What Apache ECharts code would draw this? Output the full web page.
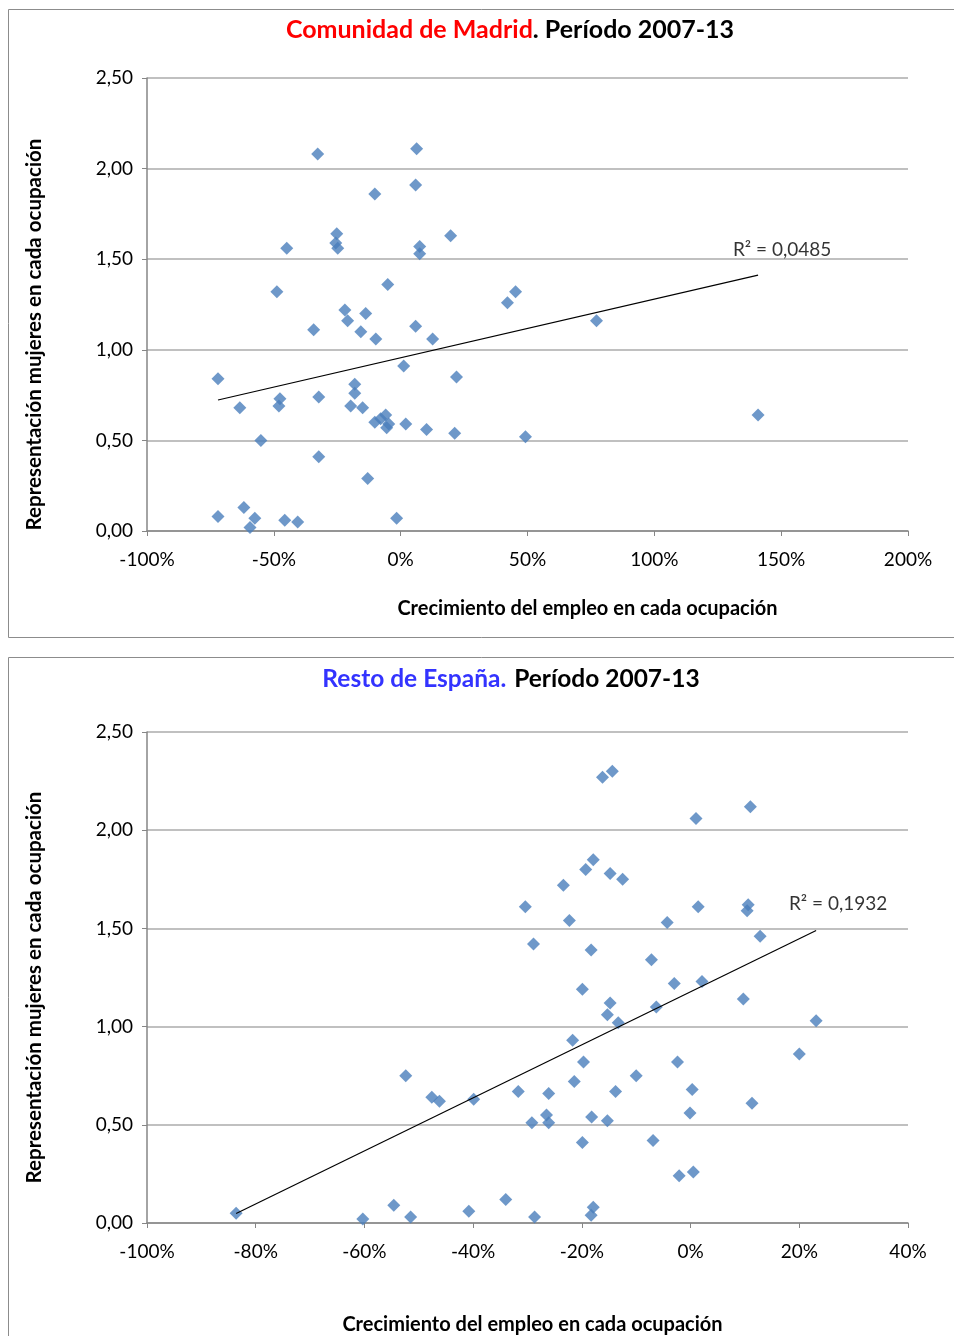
<!DOCTYPE html>
<html>
<head>
<meta charset="utf-8">
<script src="https://cdn.jsdelivr.net/npm/echarts@6/dist/echarts.min.js"></script>
<style>
  html, body { margin: 0; padding: 0; background: #ffffff; }
  #chart { width: 954px; height: 1336px; }
</style>
</head>
<body>
<div id="chart"></div>
<script>
// Employment growth per occupation (fraction, 0.5 = 50%) and women's representation index
const madridGrowth = [-0.720,-0.634,-0.551,-0.720,-0.618,-0.575,-0.594,-0.488,-0.449,-0.476,
  -0.480,-0.457,-0.406,-0.327,-0.343,-0.323,-0.323,-0.252,-0.256,-0.248,
  -0.220,-0.209,-0.181,-0.181,-0.197,-0.150,-0.157,-0.138,-0.102,-0.098,
  -0.130,-0.102,-0.079,-0.059,-0.047,-0.055,-0.051,-0.016,0.012,0.020,
  0.063,0.059,0.075,0.075,0.059,0.126,0.102,0.197,0.220,0.213,
  0.421,0.453,0.492,0.772,1.409];
const madridRepr = [0.84,0.68,0.50,0.08,0.13,0.07,0.02,1.32,1.56,0.73,
  0.69,0.06,0.05,2.08,1.11,0.74,0.41,1.64,1.59,1.56,
  1.22,1.16,0.81,0.76,0.69,0.68,1.10,1.20,1.86,1.06,
  0.29,0.60,0.62,0.64,0.59,0.57,1.36,0.07,0.91,0.59,
  2.11,1.91,1.57,1.53,1.13,1.06,0.56,1.63,0.85,0.54,
  1.26,1.32,0.52,1.16,0.64];

const restoGrowth = [-0.162,-0.144,0.010,0.110,-0.179,-0.193,-0.234,-0.148,-0.125,-0.304,
  -0.223,-0.043,0.014,0.106,0.104,0.128,-0.289,-0.183,-0.072,-0.030,
  -0.199,0.021,0.097,-0.148,-0.153,-0.063,-0.133,0.231,-0.217,-0.197,
  -0.024,0.200,-0.524,-0.100,-0.214,-0.317,-0.261,-0.138,0.003,-0.476,
  -0.462,-0.399,0.113,-0.265,-0.292,-0.261,-0.182,-0.153,-0.001,-0.199,
  -0.069,-0.021,0.005,-0.836,-0.603,-0.546,-0.515,-0.408,-0.340,-0.287,
  -0.179,-0.183];
const restoRepr = [2.27,2.30,2.06,2.12,1.85,1.80,1.72,1.78,1.75,1.61,
  1.54,1.53,1.61,1.62,1.59,1.46,1.42,1.39,1.34,1.22,
  1.19,1.23,1.14,1.12,1.06,1.10,1.02,1.03,0.93,0.82,
  0.82,0.86,0.75,0.75,0.72,0.67,0.66,0.67,0.68,0.64,
  0.62,0.63,0.61,0.55,0.51,0.51,0.54,0.52,0.56,0.41,
  0.42,0.24,0.26,0.05,0.02,0.09,0.03,0.06,0.12,0.03,
  0.08,0.04];

const yTickLabels = ['0,00','0,50','1,00','1,50','2,00','2,50'];
const madridXTicks = ['-100%','-50%','0%','50%','100%','150%','200%'];
const restoXTicks = ['-100%','-80%','-60%','-40%','-20%','0%','20%','40%'];
const madridR2 = 'R² = 0,0485';
const restoR2 = 'R² = 0,1932';

const FONT = "Lato, 'DejaVu Sans', sans-serif";
const MARK = '#4a7ebb';

// Least-squares line over the data range
function fitLine(xs, ys) {
  const n = xs.length;
  const mx = xs.reduce((a, b) => a + b, 0) / n;
  const my = ys.reduce((a, b) => a + b, 0) / n;
  let sxy = 0, sxx = 0;
  for (let i = 0; i < n; i++) { sxy += (xs[i] - mx) * (ys[i] - my); sxx += (xs[i] - mx) ** 2; }
  const k = sxy / sxx, b = my - k * mx;
  const x0 = Math.min(...xs), x1 = Math.max(...xs);
  return [[x0, b + k * x0], [x1, b + k * x1]];
}
const zip = (xs, ys) => xs.map((x, i) => [x, ys[i]]);

const madridFit = fitLine(madridGrowth, madridRepr);
const restoFit = fitLine(restoGrowth, restoRepr);

function xAxisFor(gridIndex, min, max, interval, ticks, nameGap, namePad) {
  return {
    type: 'value', gridIndex, min, max, interval,
    name: 'Crecimiento del empleo en cada ocupación',
    nameLocation: 'middle', nameGap,
    nameTextStyle: { fontFamily: FONT, fontWeight: 'bold', fontSize: 20, color: '#000', padding: namePad },
    axisLine: { onZero: false, lineStyle: { color: '#868686', width: 1.5 } },
    axisTick: { show: true, inside: false, length: 5, lineStyle: { color: '#868686' } },
    axisLabel: {
      margin: 19, fontFamily: FONT, fontSize: 19, color: '#000',
      formatter: v => ticks[Math.round((v - min) / interval)]
    },
    splitLine: { show: false }
  };
}
function yAxisFor(gridIndex, namePad) {
  return {
    type: 'value', gridIndex, min: 0, max: 2.5, interval: 0.5,
    name: 'Representación mujeres en cada ocupación',
    nameLocation: 'middle', nameRotate: 90, nameGap: 102,
    nameTextStyle: { fontFamily: FONT, fontWeight: 'bold', fontSize: 20.5, color: '#000', padding: namePad },
    axisLine: { show: true, onZero: false, lineStyle: { color: '#868686', width: 1.5 } },
    axisTick: { show: true, inside: false, length: 5, lineStyle: { color: '#868686' } },
    axisLabel: {
      margin: 14, fontFamily: FONT, fontSize: 19, color: '#000',
      formatter: v => yTickLabels[Math.round(v / 0.5)]
    },
    splitLine: { show: true, lineStyle: { color: '#ababab', width: 1.5 } }
  };
}
function trendSeries(idx, fit) {
  return {
    type: 'line', xAxisIndex: idx, yAxisIndex: idx, data: fit,
    symbol: 'none', silent: true, z: 5,
    lineStyle: { color: '#000', width: 1.2 }
  };
}
function r2Series(idx, fit, text, offset) {
  return {
    type: 'scatter', xAxisIndex: idx, yAxisIndex: idx, data: [fit[1]],
    symbolSize: 0, silent: true, z: 6,
    label: {
      show: true, position: 'inside', offset, formatter: text,
      fontFamily: FONT, fontSize: 19, color: '#000'
    }
  };
}

const chart = echarts.init(document.getElementById('chart'), null, { renderer: 'canvas' });
chart.setOption({
  animation: false,
  backgroundColor: '#ffffff',
  graphic: [
    { type: 'rect', z: -10, shape: { x: 8.5, y: 9.5, width: 960, height: 628 },
      style: { fill: '#fff', stroke: '#8c8c8c', lineWidth: 1 } },
    { type: 'rect', z: -10, shape: { x: 8.5, y: 657.5, width: 960, height: 700 },
      style: { fill: '#fff', stroke: '#8c8c8c', lineWidth: 1 } },
    { type: 'text', x: 510, y: 30, style: {
        text: '{r|Comunidad de Madrid}{k|. Período 2007-13}', align: 'center', verticalAlign: 'middle',
        rich: {
          r: { fontFamily: FONT, fontWeight: 'bold', fontSize: 25, fill: '#ff0000', color: '#ff0000' },
          k: { fontFamily: FONT, fontWeight: 'bold', fontSize: 25, fill: '#000', color: '#000' }
        } } },
    { type: 'text', x: 511, y: 679, style: {
        text: '{b|Resto de España.}{k| Período 2007-13}', align: 'center', verticalAlign: 'middle',
        rich: {
          b: { fontFamily: FONT, fontWeight: 'bold', fontSize: 24.5, fill: '#3333ff', color: '#3333ff' },
          k: { fontFamily: FONT, fontWeight: 'bold', fontSize: 24.5, fill: '#000', color: '#000', padding: [0, 0, 0, 2] }
        } } }
  ],
  grid: [
    { left: 147, top: 78, width: 761, height: 453, containLabel: false },
    { left: 147, top: 732, width: 761, height: 491, containLabel: false }
  ],
  xAxis: [
    xAxisFor(0, -1, 2, 0.5, madridXTicks, 68, [0, 0, 0, 120]),
    xAxisFor(1, -1, 0.4, 0.2, restoXTicks, 92, [0, 0, 0, 10])
  ],
  yAxis: [
    yAxisFor(0, [0, 60, 0, 0]),
    yAxisFor(1, [0, 20, 0, 0])
  ],
  series: [
    { type: 'scatter', xAxisIndex: 0, yAxisIndex: 0, data: zip(madridGrowth, madridRepr),
      symbol: 'diamond', symbolSize: 13, itemStyle: { color: MARK } },
    trendSeries(0, madridFit),
    r2Series(0, madridFit, madridR2, [24, -25]),
    { type: 'scatter', xAxisIndex: 1, yAxisIndex: 1, data: zip(restoGrowth, restoRepr),
      symbol: 'diamond', symbolSize: 13, itemStyle: { color: MARK } },
    trendSeries(1, restoFit),
    r2Series(1, restoFit, restoR2, [22, -27])
  ]
});
</script>
</body>
</html>
